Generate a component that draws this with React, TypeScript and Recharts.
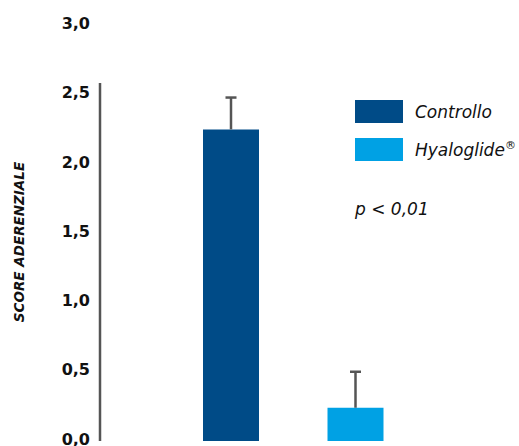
import { BarChart, Bar, Cell, XAxis, YAxis, Label } from "recharts"

const categories = ["Controllo", "Hyaloglide"]
const scores = [2.25, 0.24]
const errors = [0.23, 0.26]
const tickValues = [0, 0.5, 1, 1.5, 2, 2.5, 3]
const colors = ["#004b87", "#00a1e4"]

const data = categories.map((name, i) => ({ name, score: scores[i], err: errors[i] }))

const font = "'DejaVu Sans', Verdana, sans-serif"

// upper whisker only, stacked on top of the score bar
function Whisker(props: any) {
  const { x, y, width, height } = props
  const cx = x + width / 2
  return (
    <g stroke="#555" strokeWidth={2.5}>
      <line x1={cx} x2={cx} y1={y} y2={y + height} />
      <line x1={cx - 5.5} x2={cx + 5.5} y1={y} y2={y} />
    </g>
  )
}

function LegendBox() {
  return (
    <div
      style={{
        position: "absolute",
        left: 355,
        top: 100,
        fontFamily: font,
        fontStyle: "italic",
        fontSize: 17,
        color: "#111",
      }}
    >
      {categories.map((c, i) => (
        <div key={c} style={{ display: "flex", alignItems: "center", height: 23, marginBottom: 15 }}>
          <div style={{ width: 48, height: 23, background: colors[i], marginRight: 12 }} />
          <span>
            {c}
            {i === 1 && <sup style={{ fontSize: 11 }}>®</sup>}
          </span>
        </div>
      ))}
      <div style={{ marginTop: 38 }}>p &lt; 0,01</div>
    </div>
  )
}

export default function App() {
  return (
    <div style={{ position: "absolute", left: 0, top: 0, width: 519, height: 446, background: "#fff" }}>
      <BarChart
        width={519}
        height={446}
        data={data}
        margin={{ top: 83, right: 26, bottom: 5, left: 40 }}
      >
        <XAxis
          dataKey="name"
          tick={false}
          tickLine={false}
          height={0}
          padding={{ left: 69, right: 75 }}
          axisLine={{ stroke: "#555", strokeWidth: 2.5 }}
        />
        <YAxis
          width={60}
          domain={[0, 2.585]}
          allowDataOverflow
          ticks={tickValues}
          interval={0}
          tickLine={false}
          tickSize={0}
          tickMargin={10}
          tickFormatter={(v: number) => v.toFixed(1).replace(".", ",")}
          tick={{ fill: "#111", fontFamily: font, fontWeight: "bold", fontSize: 16, dy: -2 }}
          axisLine={{ stroke: "#555", strokeWidth: 2.5 }}
        >
          <Label
            content={() => (
              <text
                x={24}
                y={242}
                transform="rotate(-90 24 242)"
                textAnchor="middle"
                fontFamily={font}
                fontWeight="bold"
                fontStyle="italic"
                fontSize={13.5}
                fill="#111"
              >
                SCORE ADERENZIALE
              </text>
            )}
          />
        </YAxis>
        <Bar dataKey="score" stackId="s" barSize={56} isAnimationActive={false}>
          {data.map((d, i) => (
            <Cell key={d.name} fill={colors[i]} />
          ))}
        </Bar>
        <Bar dataKey="err" stackId="s" barSize={56} shape={<Whisker />} isAnimationActive={false} />
      </BarChart>
      <LegendBox />
    </div>
  )
}
